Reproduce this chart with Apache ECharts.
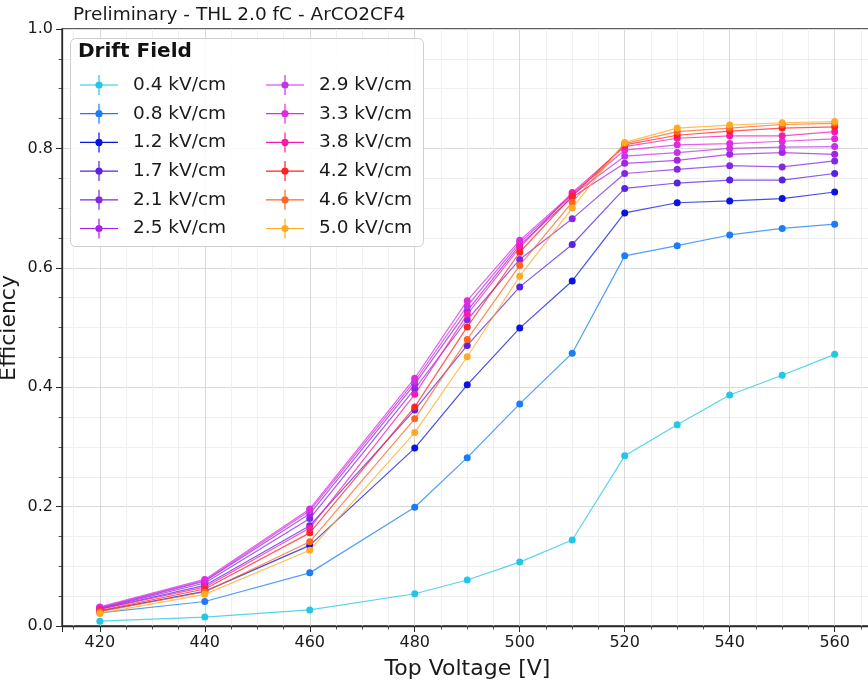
<!DOCTYPE html>
<html>
<head>
<meta charset="utf-8">
<script src="https://cdn.jsdelivr.net/npm/echarts@6/dist/echarts.min.js"></script>
<style>html,body{margin:0;padding:0;background:#fff}#c{width:868px;height:683px}</style>
</head>
<body>
<div id="c"></div>
<script>
const voltages = [420, 440, 460, 480, 490, 500, 510, 520, 530, 540, 550, 560];
const fieldNames = ['0.4 kV/cm','0.8 kV/cm','1.2 kV/cm','1.7 kV/cm','2.1 kV/cm','2.5 kV/cm','2.9 kV/cm','3.3 kV/cm','3.8 kV/cm','4.2 kV/cm','4.6 kV/cm','5.0 kV/cm'];
const eff04 = [0.008,0.015,0.027,0.054,0.077,0.107,0.144,0.285,0.337,0.387,0.420,0.455];
const eff08 = [0.022,0.041,0.089,0.199,0.282,0.372,0.457,0.620,0.637,0.655,0.666,0.673];
const eff12 = [0.025,0.058,0.135,0.298,0.404,0.499,0.578,0.692,0.709,0.712,0.716,0.727];
const eff17 = [0.028,0.068,0.168,0.362,0.470,0.568,0.639,0.733,0.742,0.747,0.747,0.758];
const eff21 = [0.029,0.072,0.180,0.397,0.513,0.614,0.682,0.758,0.765,0.771,0.769,0.779];
const eff25 = [0.030,0.075,0.188,0.405,0.528,0.638,0.718,0.775,0.780,0.790,0.793,0.790];
const eff29 = [0.031,0.076,0.193,0.410,0.536,0.642,0.722,0.787,0.793,0.800,0.802,0.803];
const eff33 = [0.032,0.078,0.196,0.415,0.545,0.646,0.724,0.797,0.806,0.808,0.812,0.816];
const eff38 = [0.028,0.065,0.164,0.388,0.522,0.634,0.726,0.803,0.817,0.821,0.821,0.828];
const eff42 = [0.026,0.062,0.156,0.367,0.501,0.626,0.720,0.806,0.822,0.829,0.834,0.836];
const eff46 = [0.024,0.057,0.141,0.347,0.480,0.604,0.710,0.808,0.828,0.834,0.840,0.842];
const eff50 = [0.021,0.053,0.127,0.324,0.451,0.586,0.700,0.810,0.834,0.839,0.843,0.845];
const yTicks = [0.0, 0.2, 0.4, 0.6, 0.8, 1.0];

const allEff = [eff04,eff08,eff12,eff17,eff21,eff25,eff29,eff33,eff38,eff42,eff46,eff50];
const colors = ['#22c6e6','#1a7df5','#0a14e0','#5a22e2','#8428e0','#a422ea','#c234e8','#e02ae2','#f81aae','#ff2222','#ff6422','#ffaa22'];

const iconPath = 'path://M0 9.4H38V10.6H0Z M18.4 0H19.6V20H18.4Z M22.6 10A3.6 3.6 0 1 1 15.4 10A3.6 3.6 0 1 1 22.6 10Z';

const series = fieldNames.map((name, i) => ({
  name: name,
  type: 'line',
  data: voltages.map((v, j) => [v, allEff[i][j]]),
  symbol: 'circle',
  symbolSize: 7,
  showSymbol: true,
  lineStyle: { width: 1.2, color: colors[i], opacity: 0.75 },
  itemStyle: { color: colors[i], opacity: 1 },
  emphasis: { disabled: true },
  animation: false,
  z: 2 + i
}));

const chart = echarts.init(document.getElementById('c'), null, { renderer: 'canvas' });
const legendCommon = {
  orient: 'vertical',
  itemWidth: 38,
  itemHeight: 20,
  itemGap: 8.7,
  padding: 0,
  icon: iconPath,
  textStyle: { fontFamily: 'DejaVu Sans', fontSize: 18.5, color: '#1a1a1a', padding: [0, 0, 0, 10] },
  selectedMode: false
};
chart.setOption({
  animation: false,
  backgroundColor: '#fff',
  title: {
    text: 'Preliminary - THL 2.0 fC - ArCO2CF4',
    left: 68, top: 1,
    textStyle: { fontFamily: 'DejaVu Sans', fontSize: 18.5, fontWeight: 'normal', color: '#1a1a1a' }
  },
  grid: {
    left: 62, top: 29, width: 811, height: 597,
    containLabel: false, outerBoundsMode: 'none',
    show: true, borderColor: '#2a2a2a', borderWidth: 1.3, backgroundColor: 'transparent'
  },
  xAxis: {
    type: 'value', min: 412.8, max: 567.3, splitNumber: 8,
    name: 'Top Voltage [V]', nameLocation: 'middle', nameGap: 32,
    nameTextStyle: { fontFamily: 'DejaVu Sans', fontSize: 22, color: '#1a1a1a' },
    axisLine: { show: true, onZero: false, lineStyle: { color: '#2a2a2a', width: 1.3 } },
    axisTick: { show: true, length: 6, lineStyle: { color: '#2a2a2a', width: 1 } },
    minorTick: { show: true, splitNumber: 4, length: 3.5, lineStyle: { color: '#2a2a2a', width: 0.8 } },
    axisLabel: { showMinLabel: false, showMaxLabel: false, fontFamily: 'DejaVu Sans', fontSize: 16, color: '#1a1a1a', margin: 9 },
    splitLine: { show: true, showMinLine: false, showMaxLine: false, lineStyle: { color: '#d9d9d9', width: 1 } },
    minorSplitLine: { show: true, lineStyle: { color: '#efefef', width: 1 } }
  },
  yAxis: {
    type: 'value', min: 0, max: 1, interval: 0.2,
    axisLine: { show: true, lineStyle: { color: '#2a2a2a', width: 1.3 } },
    axisTick: { show: true, length: 6, lineStyle: { color: '#2a2a2a', width: 1 } },
    minorTick: { show: true, splitNumber: 4, length: 3.5, lineStyle: { color: '#2a2a2a', width: 0.8 } },
    axisLabel: { fontFamily: 'DejaVu Sans', fontSize: 16, color: '#1a1a1a', margin: 9,
      formatter: v => { const t = yTicks.find(x => Math.abs(x - v) < 1e-9); return (t !== undefined ? t : v).toFixed(1); } },
    splitLine: { show: true, lineStyle: { color: '#d9d9d9', width: 1 } },
    minorSplitLine: { show: true, lineStyle: { color: '#efefef', width: 1 } }
  },
  graphic: [
    { type: 'text', x: 9, y: 328, rotation: Math.PI / 2, z: 40,
      style: { text: 'Efficiency', font: '22px "DejaVu Sans"', fill: '#1a1a1a', align: 'center', verticalAlign: 'middle' } },
    { type: 'rect', left: 70, top: 38, z: 50, shape: { width: 353, height: 208, r: 5 },
      style: { fill: 'rgba(255,255,255,0.85)', stroke: '#cfcfcf', lineWidth: 1 } },
    { type: 'text', left: 78, top: 42, z: 51,
      style: { text: 'Drift Field', font: 'bold 20px "DejaVu Sans"', fill: '#111' } }
  ],
  legend: [
    Object.assign({}, legendCommon, { left: 80, top: 75, z: 60, data: fieldNames.slice(0, 6) }),
    Object.assign({}, legendCommon, { left: 266, top: 75, z: 60, data: fieldNames.slice(6) })
  ],
  series: series
});
</script>
</body>
</html>
